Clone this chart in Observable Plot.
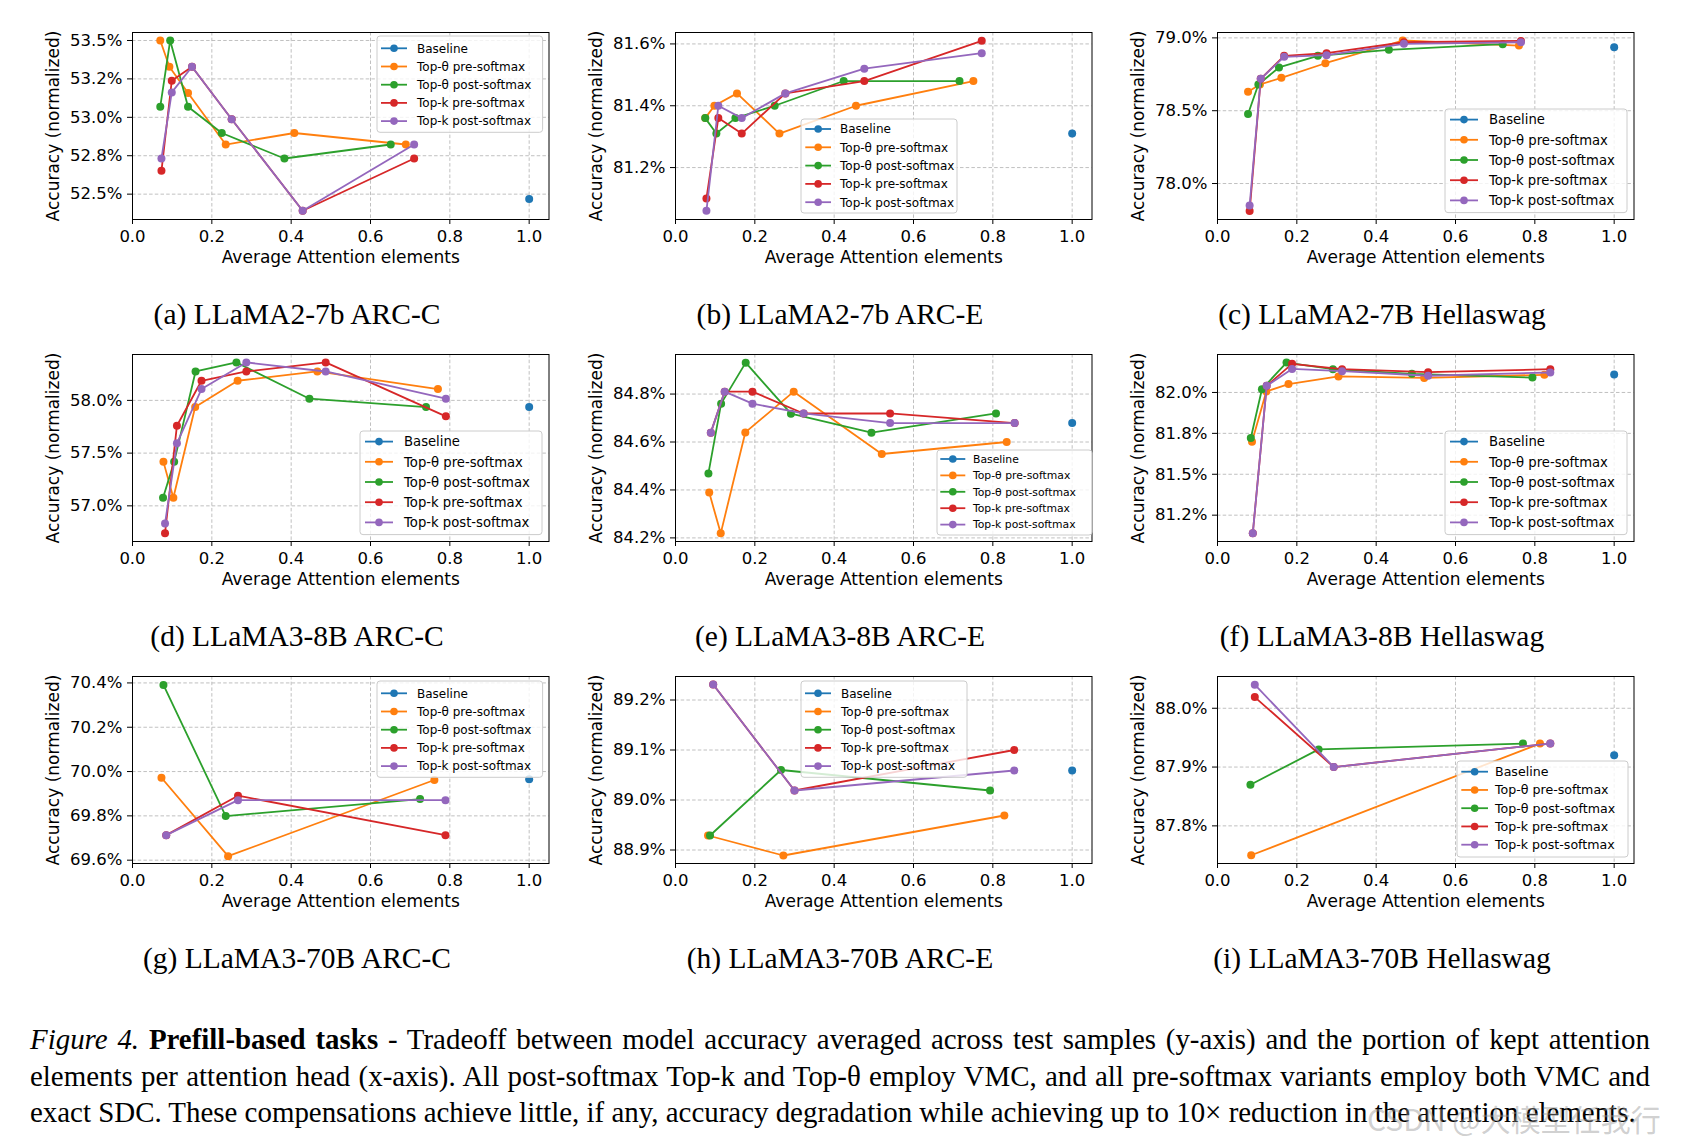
<!DOCTYPE html>
<html>
<head>
<meta charset="utf-8">
<script src="https://cdn.jsdelivr.net/npm/d3@7"></script>
<script src="https://cdn.jsdelivr.net/npm/@observablehq/plot@0.6"></script>
<style>
  html, body { margin: 0; padding: 0; background: #fff; }
  #root { position: relative; width: 1688px; height: 1148px; overflow: hidden; background: #fff; }
  .panel { position: absolute; }
  .panel svg { overflow: visible; }
  .legend { position: absolute; overflow: visible; }
  .sub { position: absolute; font-family: "Liberation Serif", serif; font-size: 29.5px; line-height: 1; white-space: nowrap; transform: translate(-50%, -50%); color: #000; }
  .cap { position: absolute; left: 30px; font-family: "Liberation Serif", serif; font-size: 27px; line-height: 1; white-space: nowrap; color: #000; }
  .wm { position: absolute; font-family: "Noto Sans CJK SC", "DejaVu Sans", sans-serif; font-size: 30px; color: rgba(150,150,150,0.45); white-space: nowrap; line-height: 1; }
</style>
</head>
<body>
<div id="root"></div>
<script>
// ---------- data ----------
const seriesNames = ["Baseline", "Top-θ pre-softmax", "Top-θ post-softmax", "Top-k pre-softmax", "Top-k post-softmax"];
const seriesColors = ["#1f77b4", "#ff7f0e", "#2ca02c", "#d62728", "#9467bd"];
const xTicks = [0, 0.2, 0.4, 0.6, 0.8, 1.0];
const xTickLabels = ["0.0", "0.2", "0.4", "0.6", "0.8", "1.0"];
const xLabel = "Average Attention elements";
const yLabel = "Accuracy (normalized)";
const panelTitles = ["(a) LLaMA2-7b ARC-C", "(b) LLaMA2-7b ARC-E", "(c) LLaMA2-7B Hellaswag",
                     "(d) LLaMA3-8B ARC-C", "(e) LLaMA3-8B ARC-E", "(f) LLaMA3-8B Hellaswag",
                     "(g) LLaMA3-70B ARC-C", "(h) LLaMA3-70B ARC-E", "(i) LLaMA3-70B Hellaswag"];

// (a) LLaMA2-7b ARC-C
const aX = [[1.0], [0.070, 0.093, 0.140, 0.235, 0.408, 0.689], [0.070, 0.095, 0.140, 0.225, 0.383, 0.651], [0.073, 0.099, 0.150, 0.250, 0.429, 0.710], [0.073, 0.099, 0.150, 0.250, 0.429, 0.710]];
const aY = [[52.468], [53.5, 53.329, 53.158, 52.823, 52.898, 52.823], [53.069, 53.5, 53.069, 52.898, 52.732, 52.823], [52.652, 53.238, 53.329, 52.987, 52.392, 52.732], [52.732, 53.162, 53.329, 52.987, 52.392, 52.823]];
const aYTicks = [52.5, 52.75, 53.0, 53.25, 53.5];
const aYTickLabels = ["52.5%", "52.8%", "53.0%", "53.2%", "53.5%"];
// (b) LLaMA2-7b ARC-E
const bX = [[1.0], [0.075, 0.098, 0.155, 0.262, 0.455, 0.751], [0.075, 0.103, 0.151, 0.250, 0.424, 0.716], [0.078, 0.108, 0.167, 0.277, 0.476, 0.772], [0.078, 0.108, 0.167, 0.277, 0.476, 0.772]];
const bY = [[81.31], [81.36, 81.40, 81.44, 81.31, 81.40, 81.48], [81.36, 81.31, 81.36, 81.40, 81.48, 81.48], [81.10, 81.36, 81.31, 81.44, 81.48, 81.61], [81.06, 81.40, 81.36, 81.44, 81.52, 81.57]];
const bYTicks = [81.2, 81.4, 81.6];
const bYTickLabels = ["81.2%", "81.4%", "81.6%"];
// (c) LLaMA2-7B Hellaswag
const cX = [[1.0], [0.077, 0.107, 0.161, 0.272, 0.467, 0.760], [0.077, 0.103, 0.155, 0.253, 0.432, 0.719], [0.081, 0.109, 0.168, 0.275, 0.470, 0.765], [0.081, 0.109, 0.168, 0.275, 0.470, 0.765]];
const cY = [[78.936], [78.630, 78.680, 78.726, 78.826, 78.982, 78.947], [78.477, 78.680, 78.797, 78.877, 78.918, 78.957], [77.811, 78.719, 78.877, 78.895, 78.970, 78.979], [77.849, 78.719, 78.870, 78.881, 78.959, 78.970]];
const cYTicks = [78.0, 78.5, 79.0];
const cYTickLabels = ["78.0%", "78.5%", "79.0%"];
// (d) LLaMA3-8B ARC-C
const dX = [[1.0], [0.078, 0.103, 0.158, 0.265, 0.466, 0.770], [0.077, 0.105, 0.159, 0.262, 0.446, 0.740], [0.082, 0.112, 0.174, 0.287, 0.487, 0.790], [0.082, 0.112, 0.174, 0.287, 0.487, 0.790]];
const dY = [[57.937], [57.417, 57.076, 57.937, 58.186, 58.274, 58.107], [57.076, 57.417, 58.274, 58.360, 58.016, 57.937], [56.741, 57.760, 58.186, 58.274, 58.360, 57.849], [56.833, 57.593, 58.107, 58.360, 58.274, 58.016]];
const dYTicks = [57.0, 57.5, 58.0];
const dYTickLabels = ["57.0%", "57.5%", "58.0%"];
// (e) LLaMA3-8B ARC-E
const eX = [[1.0], [0.085, 0.114, 0.176, 0.298, 0.520, 0.835], [0.083, 0.115, 0.177, 0.291, 0.494, 0.808], [0.089, 0.124, 0.194, 0.323, 0.541, 0.855], [0.089, 0.124, 0.194, 0.323, 0.541, 0.855]];
const eY = [[84.679], [84.389, 84.219, 84.640, 84.810, 84.550, 84.600], [84.469, 84.760, 84.931, 84.718, 84.639, 84.719], [84.639, 84.810, 84.810, 84.719, 84.719, 84.679], [84.639, 84.810, 84.760, 84.719, 84.679, 84.679]];
const eYTicks = [84.2, 84.4, 84.6, 84.8];
const eYTickLabels = ["84.2%", "84.4%", "84.6%", "84.8%"];
// (f) LLaMA3-8B Hellaswag
const fX = [[1.0], [0.087, 0.123, 0.179, 0.305, 0.521, 0.824], [0.084, 0.112, 0.174, 0.291, 0.490, 0.794], [0.089, 0.124, 0.188, 0.314, 0.531, 0.839], [0.089, 0.124, 0.188, 0.314, 0.531, 0.839]];
const fY = [[82.110], [81.699, 82.006, 82.051, 82.098, 82.089, 82.108], [81.722, 82.020, 82.183, 82.142, 82.114, 82.091], [81.140, 82.041, 82.175, 82.142, 82.124, 82.142], [81.140, 82.041, 82.144, 82.130, 82.102, 82.122]];
const fYTicks = [81.25, 81.5, 81.75, 82.0];
const fYTickLabels = ["81.2%", "81.5%", "81.8%", "82.0%"];
// (g) LLaMA3-70B ARC-C
const gX = [[1.0], [0.073, 0.241, 0.761], [0.078, 0.235, 0.725], [0.085, 0.266, 0.789], [0.085, 0.266, 0.789]];
const gY = [[69.965], [69.972, 69.618, 69.962], [70.391, 69.799, 69.876], [69.713, 69.891, 69.713], [69.713, 69.871, 69.871]];
const gYTicks = [69.6, 69.8, 70.0, 70.2, 70.4];
const gYTickLabels = ["69.6%", "69.8%", "70.0%", "70.2%", "70.4%"];
// (h) LLaMA3-70B ARC-E
const hX = [[1.0], [0.082, 0.272, 0.829], [0.087, 0.266, 0.793], [0.095, 0.300, 0.854], [0.095, 0.300, 0.854]];
const hY = [[89.059], [88.929, 88.889, 88.969], [88.929, 89.060, 89.019], [89.231, 89.019, 89.100], [89.231, 89.019, 89.059]];
const hYTicks = [88.9, 89.0, 89.1, 89.2];
const hYTickLabels = ["88.9%", "89.0%", "89.1%", "89.2%"];
// (i) LLaMA3-70B Hellaswag
const iX = [[1.0], [0.085, 0.813], [0.083, 0.255, 0.770], [0.094, 0.293, 0.839], [0.094, 0.293, 0.839]];
const iY = [[87.920], [87.750, 87.940], [87.870, 87.930, 87.940], [88.019, 87.900, 87.940], [88.040, 87.900, 87.940]];
const iYTicks = [87.8, 87.9, 88.0];
const iYTickLabels = ["87.8%", "87.9%", "88.0%"];

const captionLines = [
  ["<i>Figure 4.</i> <b>Prefill-based tasks</b> - Tradeoff between model accuracy averaged across test samples (y-axis) and the portion of kept attention"],
  ["elements per attention head (x-axis). All post-softmax Top-k and Top-θ employ VMC, and all pre-softmax variants employ both VMC and"],
  ["exact SDC. These compensations achieve little, if any, accuracy degradation while achieving up to 10× reduction in the attention elements."]
];
const watermark = "CSDN @大模型任我行";

// ---------- layout ----------
const colLeft = [132.3, 675.3, 1217.3];
const rowTop = [31.7, 353.7, 675.7];
const frameW = 416.5, frameH = 187;
const ML = 90, MR = 10, MT = 10, MB = 60;
const titleCX = [297, 840, 1382];
const titleCY = [315.4, 637.3, 959.2];

const legA = {w: 165.6, h: 96.3, font: 12, rowH: 18.2, first: 12.3, h0: 4, h1: 30, tx: 40};
const legB = {w: 156, h: 94, font: 12, rowH: 18.3, first: 10, h0: 4.3, h1: 30, tx: 39};
const legC = {w: 182, h: 103.6, font: 13.2, rowH: 20.2, first: 10.6, h0: 5, h1: 33, tx: 44};
const legE = {w: 155, h: 85, font: 10.8, rowH: 16.4, first: 9, h0: 3.3, h1: 28.3, tx: 36};
const legI = {w: 171, h: 96, font: 12.6, rowH: 18.25, first: 10.7, h0: 4.3, h1: 31, tx: 38};

const panels = [
  {xs: aX, ys: aY, ticks: aYTicks, labels: aYTickLabels, domain: [52.335, 53.552], leg: {...legA, left: 376.7, top: 35.7}},
  {xs: bX, ys: bY, ticks: bYTicks, labels: bYTickLabels, domain: [81.032, 81.637], leg: {...legB, left: 800.7, top: 118.7}},
  {xs: cX, ys: cY, ticks: cYTicks, labels: cYTickLabels, domain: [77.753, 79.037], leg: {...legC, left: 1445, top: 108.7}},
  {xs: dX, ys: dY, ticks: dYTicks, labels: dYTickLabels, domain: [56.662, 58.435], leg: {...legC, left: 360, top: 430.7}},
  {xs: eX, ys: eY, ticks: eYTicks, labels: eYTickLabels, domain: [84.185, 84.965], leg: {...legE, left: 936.7, top: 450.3}},
  {xs: fX, ys: fY, ticks: fYTicks, labels: fYTickLabels, domain: [81.089, 82.232], leg: {...legC, left: 1445, top: 430.7}},
  {xs: gX, ys: gY, ticks: gYTicks, labels: gYTickLabels, domain: [69.585, 70.429], leg: {...legA, left: 376.7, top: 680.7}},
  {xs: hX, ys: hY, ticks: hYTicks, labels: hYTickLabels, domain: [88.873, 89.247], leg: {...legA, w: 166, left: 800.7, top: 680.7}},
  {xs: iX, ys: iY, ticks: iYTicks, labels: iYTickLabels, domain: [87.736, 88.054], leg: {...legI, left: 1457.3, top: 761.3}}
];

const root = document.getElementById("root");
const xLab = new Map(xTicks.map((t, i) => [t, xTickLabels[i]]));
const gridStyle = {stroke: "#b0b0b0", strokeOpacity: 1, strokeWidth: 0.8, strokeDasharray: "3.5,2.2"};

panels.forEach((p, k) => {
  const col = k % 3, row = Math.floor(k / 3);
  const rows = [];
  p.xs.forEach((arr, s) => arr.forEach((x, i) => rows.push({s: seriesNames[s], si: s, x, y: p.ys[s][i]})));
  const yLab = new Map(p.ticks.map((t, i) => [t, p.labels[i]]));
  const marks = [
    Plot.gridX(xTicks, gridStyle),
    Plot.gridY(p.ticks, gridStyle)
  ];
  seriesNames.forEach((name, s) => {
    const d = rows.filter(r => r.si === s);
    marks.push(Plot.line(d, {x: "x", y: "y", stroke: "s", strokeWidth: 1.8}));
    marks.push(Plot.dot(d, {x: "x", y: "y", fill: "s", r: 4}));
  });
  marks.push(Plot.frame({stroke: "#000", strokeWidth: 1}));
  marks.push(Plot.axisX(xTicks, {tickSize: 5, tickPadding: 6, tickFormat: d => xLab.get(d), label: null}));
  marks.push(Plot.axisX({label: xLabel, ticks: [], tickSize: 0, labelAnchor: "center", labelOffset: 43, labelArrow: "none", fontSize: 17}));
  marks.push(Plot.axisY(p.ticks, {tickSize: 5, tickPadding: 5, tickFormat: d => yLab.get(d), label: null}));
  marks.push(Plot.axisY({label: yLabel, ticks: [], tickSize: 0, labelAnchor: "center", labelOffset: 86, labelArrow: "none", fontSize: 17}));
  const svg = Plot.plot({
    width: ML + frameW + MR, height: MT + frameH + MB,
    marginLeft: ML, marginRight: MR, marginTop: MT, marginBottom: MB,
    x: {domain: [0, 1.05]},
    y: {domain: p.domain},
    color: {domain: seriesNames, range: seriesColors},
    style: {fontFamily: "DejaVu Sans", fontSize: "16.5px", background: "transparent", color: "#000", overflow: "visible"},
    marks
  });
  const wrap = document.createElement("div");
  wrap.className = "panel";
  wrap.style.left = (colLeft[col] - ML) + "px";
  wrap.style.top = (rowTop[row] - MT) + "px";
  wrap.appendChild(svg);
  root.appendChild(wrap);

  // legend (matplotlib style box)
  const L = p.leg;
  const lsvg = d3.create("svg").attr("class", "legend")
    .attr("width", L.w + 2).attr("height", L.h + 2)
    .style("left", (L.left - 1) + "px").style("top", (L.top - 1) + "px");
  lsvg.append("rect").attr("x", 1).attr("y", 1).attr("width", L.w).attr("height", L.h)
    .attr("rx", 3).attr("fill", "#fff").attr("fill-opacity", 0.8).attr("stroke", "#cccccc").attr("stroke-width", 1);
  seriesNames.forEach((name, s) => {
    const cy = 1 + L.first + s * L.rowH;
    const g = lsvg.append("g");
    g.append("line").attr("x1", 1 + L.h0).attr("x2", 1 + L.h1).attr("y1", cy).attr("y2", cy)
      .attr("stroke", seriesColors[s]).attr("stroke-width", 1.8);
    g.append("circle").attr("cx", 1 + (L.h0 + L.h1) / 2).attr("cy", cy).attr("r", 3.8).attr("fill", seriesColors[s]);
    g.append("text").attr("x", 1 + L.tx).attr("y", cy).attr("dy", "0.36em")
      .attr("font-family", "DejaVu Sans").attr("font-size", L.font + "px").attr("fill", "#000").text(name);
  });
  root.appendChild(lsvg.node());

  // subplot title
  const t = document.createElement("div");
  t.className = "sub";
  t.textContent = panelTitles[k];
  t.style.left = titleCX[col] + "px";
  t.style.top = titleCY[row] + "px";
  root.appendChild(t);
});

// caption
const capTops = [1025, 1062, 1098];
const capDivs = captionLines.map((ln, i) => {
  const d = document.createElement("div");
  d.className = "cap";
  d.innerHTML = ln[0];
  d.style.top = capTops[i] + "px";
  root.appendChild(d);
  return d;
});
// fit font so the last (unjustified) line spans the measured width, then justify first two lines
const w3 = capDivs[2].getBoundingClientRect().width;
const fs = 27 * 1606 / w3;
capDivs.forEach(d => d.style.fontSize = fs + "px");
[0, 1].forEach(i => {
  const d = capDivs[i];
  const w = d.getBoundingClientRect().width;
  const spaces = (d.textContent.match(/ /g) || []).length;
  d.style.wordSpacing = ((1620 - w) / spaces) + "px";
});

const wm = document.createElement("div");
wm.className = "wm";
wm.textContent = watermark;
wm.style.left = "1367px";
wm.style.top = "1103px";
root.appendChild(wm);
</script>
</body>
</html>
